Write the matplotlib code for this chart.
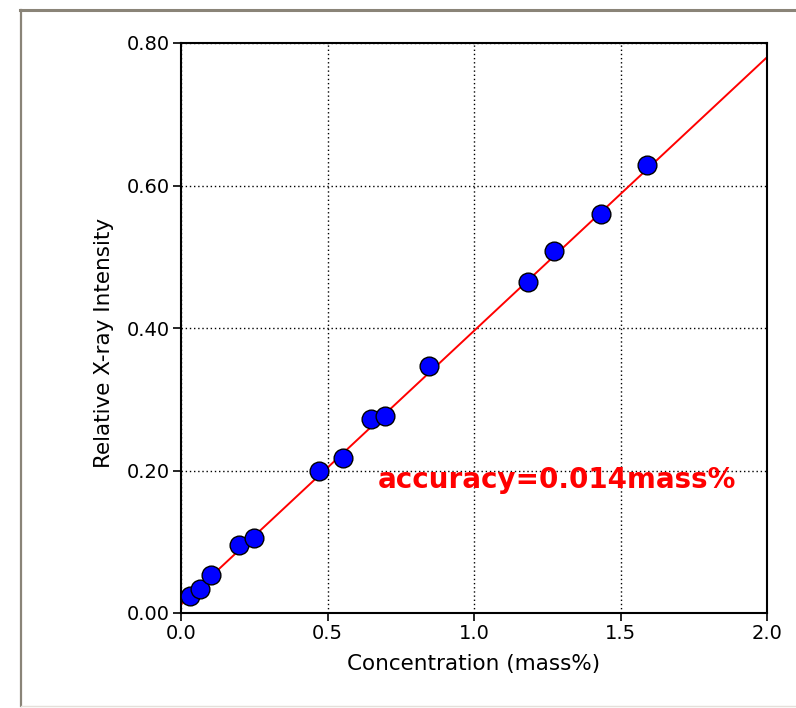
import matplotlib.pyplot as plt
from matplotlib.lines import Line2D

# calibration data
conc = [0.031, 0.065, 0.102, 0.198, 0.249, 0.471, 0.553, 0.648, 0.696,
        0.846, 1.184, 1.273, 1.433, 1.590]
intensity = [0.024, 0.034, 0.053, 0.095, 0.105, 0.199, 0.218, 0.272, 0.276,
             0.347, 0.465, 0.508, 0.560, 0.629]
fit_x = [0.0, 2.0]
fit_y = [0.012, 0.780]

xticks = [0.0, 0.5, 1.0, 1.5, 2.0]
yticks = [0.0, 0.2, 0.4, 0.6, 0.8]

W, H = 796, 708
fig = plt.figure(figsize=(W / 100, H / 100), dpi=100)
ax = fig.add_axes([181 / W, 1 - 613 / H, 586 / W, 570 / H])

# window frame
fig.add_artist(Line2D([20 / W, 1], [1 - 10 / H, 1 - 10 / H], color="#8a8478", lw=2.2))
fig.add_artist(Line2D([21 / W, 21 / W], [1 - 10 / H, 0.003], color="#8a8478", lw=1.6))
fig.add_artist(Line2D([21 / W, 1], [0.003, 0.003], color="#e4e0da", lw=1))

ax.plot(fit_x, fit_y, color="red", lw=1.4, zorder=2)
ax.plot(conc, intensity, "o", color="blue", markersize=13.5, markeredgecolor="black",
        markeredgewidth=1, zorder=3, clip_on=False)

ax.set_xlim(0, 2.0)
ax.set_ylim(0, 0.80)
ax.set_xticks(xticks)
ax.set_yticks(yticks)
ax.set_xticklabels(["%.1f" % v for v in xticks])
ax.set_yticklabels(["%.2f" % v for v in yticks])
ax.tick_params(axis="both", labelsize=14, direction="out", length=6, width=1.2,
               color="black", pad=2)
ax.grid(True, color="black", linestyle=(0, (1, 2)), linewidth=1)
for s in ax.spines.values():
    s.set_linewidth(1.5)

ax.set_xlabel("Concentration (mass%)", fontsize=15.5, labelpad=8)
ax.set_ylabel("Relative X-ray Intensity", fontsize=15.5)
ax.yaxis.set_label_coords(-0.115, (613 - 343) / 570)

ax.text(0.672, 0.187, "accuracy=0.014mass%", color="red", fontsize=20,
        fontweight="bold", va="center", ha="left")

fig.savefig("out.png", dpi=100)
